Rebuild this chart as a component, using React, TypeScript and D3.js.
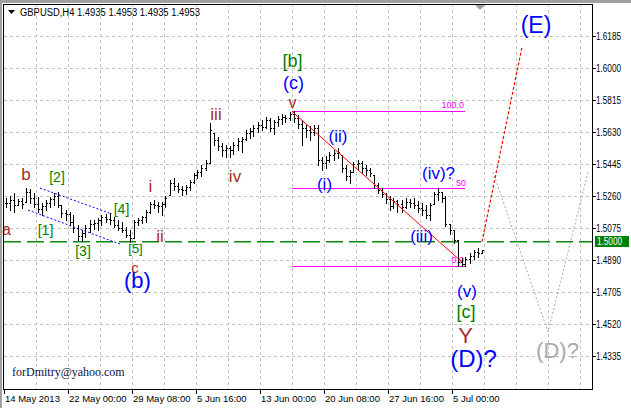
import React from "react";
import * as d3 from "d3";

// ---- price bars (8-hour slots) ----
const highs = [
  1.5253, 1.5264, 1.5282, 1.5247, 1.5253, 1.5311, 1.5305, 1.5282, 1.5259, 1.5224,
  1.5241, 1.5259, 1.5282, 1.5287, 1.5212, 1.5184, 1.5172, 1.5155, 1.5097, 1.5068,
  1.5097, 1.5126, 1.5126, 1.5137, 1.5155, 1.516, 1.5166, 1.5143, 1.5126, 1.5114,
  1.5086, 1.5068, 1.5126, 1.5137, 1.5149, 1.5184, 1.523, 1.5241, 1.523, 1.523,
  1.5264, 1.5357, 1.5368, 1.5339, 1.5322, 1.5328, 1.5357, 1.5397, 1.5414, 1.5443,
  1.5472, 1.5686, 1.5628, 1.5605, 1.557, 1.5559, 1.5553, 1.5576, 1.5599, 1.5605,
  1.5645, 1.5657, 1.5674, 1.5692, 1.5703, 1.572, 1.5715, 1.5703, 1.5726, 1.5738,
  1.5732, 1.5749, 1.5752, 1.5732, 1.5703, 1.5674, 1.5668, 1.5674, 1.5674, 1.549,
  1.5495, 1.5518, 1.553, 1.5541, 1.5501, 1.5443, 1.5414, 1.5461, 1.5472, 1.5466,
  1.5443, 1.5426, 1.5386, 1.5339, 1.5311, 1.5282, 1.5264, 1.5253, 1.5241, 1.5241,
  1.5253, 1.5247, 1.5253, 1.5236, 1.5224, 1.5212, 1.5224, 1.5287, 1.5311, 1.5287,
  1.5264, 1.5103, 1.5068, 1.5011, 1.4907, 1.4913, 1.4936, 1.4953, 1.4965, 1.4953,
];
const lows = [
  1.5201, 1.5184, 1.5172, 1.5212, 1.5195, 1.523, 1.5224, 1.5201, 1.5172, 1.5155,
  1.5184, 1.5201, 1.5212, 1.5201, 1.5143, 1.5126, 1.5097, 1.5057, 1.5011, 1.5005,
  1.5028, 1.5057, 1.5074, 1.5068, 1.5097, 1.5114, 1.5103, 1.5086, 1.5068, 1.5057,
  1.5028, 1.4999, 1.5022, 1.5097, 1.5109, 1.5114, 1.5166, 1.5195, 1.5172, 1.5155,
  1.5201, 1.527, 1.5299, 1.5287, 1.527, 1.5276, 1.5299, 1.5339, 1.5368, 1.538,
  1.5414, 1.5455, 1.5559, 1.553, 1.5495, 1.5489, 1.5489, 1.5507, 1.553, 1.5518,
  1.5588, 1.5599, 1.5611, 1.5634, 1.5645, 1.5657, 1.5639, 1.5622, 1.5668, 1.568,
  1.5692, 1.5703, 1.5692, 1.5657, 1.5559, 1.5605, 1.5588, 1.5616, 1.5443, 1.5414,
  1.5426, 1.5461, 1.5472, 1.5484, 1.5403, 1.5357, 1.5339, 1.5403, 1.5414, 1.5397,
  1.5386, 1.538, 1.5311, 1.5282, 1.5259, 1.5224, 1.5184, 1.5195, 1.5172, 1.5172,
  1.5195, 1.5201, 1.5195, 1.5172, 1.5155, 1.5137, 1.5126, 1.5218, 1.5241, 1.523,
  1.5091, 1.5045, 1.4993, 1.486, 1.4858, 1.486, 1.4878, 1.4901, 1.4913, 1.4935,
];
const closes = [
  1.5224, 1.5241, 1.5212, 1.5236, 1.5218, 1.5287, 1.5253, 1.5218, 1.5189, 1.5207,
  1.5224, 1.5247, 1.5264, 1.5212, 1.5166, 1.5161, 1.5114, 1.508, 1.5034, 1.5051,
  1.508, 1.5103, 1.5109, 1.5126, 1.5143, 1.5132, 1.5126, 1.5097, 1.508, 1.5068,
  1.5039, 1.5022, 1.5114, 1.5126, 1.5143, 1.5172, 1.5218, 1.5212, 1.5207, 1.5218,
  1.5253, 1.5339, 1.5322, 1.5305, 1.5299, 1.5316, 1.5345, 1.5386, 1.5403, 1.5426,
  1.5455, 1.5645, 1.5588, 1.5553, 1.553, 1.5541, 1.553, 1.5559, 1.5582, 1.5593,
  1.5628, 1.5639, 1.5657, 1.5674, 1.5663, 1.5703, 1.5657, 1.5692, 1.5709, 1.572,
  1.5715, 1.5738, 1.5715, 1.568, 1.5657, 1.5645, 1.5634, 1.5657, 1.5472, 1.5455,
  1.5472, 1.5501, 1.5512, 1.5518, 1.5426, 1.538, 1.5403, 1.5449, 1.5455, 1.5426,
  1.5414, 1.5397, 1.5328, 1.5299, 1.5276, 1.5247, 1.5207, 1.5236, 1.5218, 1.5201,
  1.523, 1.5224, 1.5212, 1.5195, 1.5184, 1.5155, 1.5212, 1.5276, 1.5287, 1.5253,
  1.5103, 1.5068, 1.5011, 1.4884, 1.4872, 1.4901, 1.4918, 1.4941, 1.4936, 1.4953,
];

// ---- axes ----
const priceTicks = [1.4335, 1.452, 1.4705, 1.489, 1.5075, 1.526, 1.5445, 1.563, 1.5815, 1.6, 1.6185];
const dateLabels = ["14 May 2013", "22 May 00:00", "29 May 08:00", "5 Jun 16:00", "13 Jun 00:00", "20 Jun 08:00", "27 Jun 16:00", "5 Jul 00:00"];
const dateSlots = [0, 16, 32, 48, 64, 80, 96, 112];
const gridSlots = [8, 16, 24, 32, 40, 48, 56, 64, 72, 80, 88, 96, 104, 112, 120, 128, 136, 144];
const currentLevel = 1.5;
const titleText = "GBPUSD,H4  1.4935 1.4953 1.4935 1.4953";

// ---- analysis objects ----
const fibHigh = 1.5752;
const fibLow = 1.4858;
const fibLevels = [0, 50, 100];
const fibSlots = [72, 115.25];
const trendLine = [[72, 1.5752], [114.5, 1.4883]];
const channelUpper = [[9, 1.531], [27, 1.516]];
const channelLower = [[6, 1.5183], [29, 1.4987]];
const projectionE = [[119.5, 1.5], [129.5, 1.6124]];
const projectionD = [[122.25, 1.5403], [136, 1.4479], [146, 1.5403]];

const BROWN = "#a52a2a";
const GREEN = "#008000";
const BLUE = "#0000ff";
const GRAY = "#aaaaaa";

const waveLabels = [
  { t: "a", s: 0.625, p: 1.5039, c: BROWN, f: 16 },
  { t: "b", s: 5.5, p: 1.5356, c: BROWN, f: 17 },
  { t: "[1]", s: 10.375, p: 1.5039, c: GREEN, f: 14 },
  { t: "[2]", s: 13.25, p: 1.5345, c: GREEN, f: 14 },
  { t: "[3]", s: 19.75, p: 1.4918, c: GREEN, f: 14 },
  { t: "[4]", s: 29.375, p: 1.516, c: GREEN, f: 14 },
  { t: "[5]", s: 32.875, p: 1.4935, c: GREEN, f: 13 },
  { t: "c", s: 32.75, p: 1.4819, c: BROWN, f: 15 },
  { t: "(b)", s: 33.375, p: 1.4733, c: BLUE, f: 22 },
  { t: "i", s: 36.625, p: 1.5287, c: BROWN, f: 17 },
  { t: "ii", s: 39, p: 1.4999, c: BROWN, f: 17 },
  { t: "iii", s: 53, p: 1.5703, c: BROWN, f: 17 },
  { t: "iv", s: 57.75, p: 1.5345, c: BROWN, f: 17 },
  { t: "v", s: 72.125, p: 1.5772, c: BROWN, f: 16 },
  { t: "(c)", s: 72.375, p: 1.5882, c: BLUE, f: 18 },
  { t: "[b]", s: 72.125, p: 1.6009, c: GREEN, f: 18 },
  { t: "(i)", s: 80.125, p: 1.5299, c: BLUE, f: 17 },
  { t: "(ii)", s: 83.5, p: 1.5576, c: BLUE, f: 17 },
  { t: "(iii)", s: 104.375, p: 1.4999, c: BLUE, f: 17 },
  { t: "(iv)?", s: 108.625, p: 1.5362, c: BLUE, f: 17 },
  { t: "(v)", s: 115.75, p: 1.4681, c: BLUE, f: 17 },
  { t: "[c]", s: 115.5, p: 1.456, c: GREEN, f: 18 },
  { t: "Y", s: 115.375, p: 1.4418, c: BROWN, f: 22 },
  { t: "(D)?", s: 117.375, p: 1.4274, c: BLUE, f: 24 },
  { t: "(E)", s: 133, p: 1.6205, c: BLUE, f: 23 },
  { t: "(D)?", s: 138.375, p: 1.4329, c: GRAY, f: 22 },
];

const W = 631;
const H = 408;
const L = 4, T = 4, R = 592, B = 389;
const SANS = "'Liberation Sans', Arial, sans-serif";

export default function App() {
  const x = d3.scaleLinear().domain([0, 147]).range([L, R]);
  const y = d3.scaleLinear().domain([1.41498, 1.63726]).range([B, T]);
  const py = (p: number) => Math.floor(y(p)) + 0.5;
  const px = (s: number) => Math.floor(x(s)) + 0.5;
  const line = d3.line<number[]>().x((d) => x(d[0])).y((d) => y(d[1]));

  const barPath = highs
    .map((h, i) => {
      const l = lows[i];
      const c = closes[i];
      const o = Math.min(h, Math.max(l, i > 0 ? closes[i - 1] : c));
      const cx = Math.floor(x(i + 0.5));
      const yh = Math.round(y(h));
      const yl = Math.round(y(l));
      const yo = Math.round(y(o)) + 0.5;
      const yc = Math.round(y(c)) + 0.5;
      return `M${cx + 0.5},${yh}V${yl + 1}M${cx - 1},${yo}H${cx}M${cx + 1},${yc}H${cx + 2}`;
    })
    .join("");

  const fibRange = fibHigh - fibLow;
  const yCur = y(currentLevel);

  return (
    <svg
      width={W}
      height={H}
      style={{ position: "absolute", left: 0, top: 0, background: "#fff" }}
      fontFamily={SANS}
    >
      <rect x={0} y={0} width={W} height={H} fill="#ffffff" />
      <rect x={0} y={0} width={W} height={3} fill="#a0a0a0" />
      <rect x={0} y={0} width={2} height={H} fill="#a0a0a0" />

      {/* grid */}
      <g stroke="#c0c0c0" strokeDasharray="3,3" shapeRendering="crispEdges">
        {priceTicks.map((p) => (
          <line key={"h" + p} x1={L} x2={R} y1={py(p)} y2={py(p)} />
        ))}
        {gridSlots.map((s) => (
          <line key={"v" + s} x1={px(s)} x2={px(s)} y1={T} y2={B} />
        ))}
      </g>

      {/* fibonacci levels */}
      {fibLevels.map((lv) => {
        const p = fibLow + (fibRange * lv) / 100;
        return (
          <g key={"f" + lv}>
            <line x1={x(fibSlots[0])} x2={x(fibSlots[1])} y1={py(p)} y2={py(p)} stroke="#ff00ff" shapeRendering="crispEdges" />
            <text x={x(fibSlots[1]) - (lv === 50 ? -1 : 1)} y={py(p) - (lv === 50 ? 3 : 4)} fontSize={9} fill="#ff00ff" textAnchor="end">
              {lv === 50 ? "50" : lv.toFixed(1)}
            </text>
          </g>
        );
      })}

      {/* current level line */}
      <line x1={L} x2={R} y1={yCur} y2={yCur} stroke="#0a8a0a" strokeWidth={1.6} strokeDasharray="17,6" />

      {/* channel */}
      <path d={line(channelUpper) || ""} stroke={BLUE} strokeDasharray="2,2" fill="none" />
      <path d={line(channelLower) || ""} stroke={BLUE} strokeDasharray="2,2" fill="none" />

      {/* bars */}
      <path d={barPath} stroke="#000" strokeWidth={1} fill="none" shapeRendering="crispEdges" />

      {/* trend line */}
      <path d={line(trendLine) || ""} stroke="#ff0000" fill="none" strokeWidth={1} />

      {/* projections */}
      <path d={line(projectionD) || ""} stroke="#a8a8a8" strokeDasharray="2,2" fill="none" />
      <path d={line(projectionE) || ""} stroke="#ff0000" strokeDasharray="3,2" fill="none" strokeWidth={1.2} />

      {/* wave labels */}
      {waveLabels.map((d, i) => (
        <text key={"w" + i} x={x(d.s)} y={y(d.p)} fontSize={d.f} fill={d.c} textAnchor="middle">
          {d.t}
        </text>
      ))}

      {/* frame */}
      <rect x={3.5} y={4.5} width={R - 3.5} height={B - 4.5} fill="none" stroke="#000" shapeRendering="crispEdges" />

      {/* shift marker */}
      <path d={`M${x(119) - 5},5H${x(119) + 5}L${x(119)},10Z`} fill="#a0a0a0" />

      {/* title */}
      <path d="M8,10H15L11.5,14Z" fill="#000" />
      <text x={20} y={15.5} fontSize={10} fill="#000" textLength={180} lengthAdjust="spacingAndGlyphs">
        {titleText}
      </text>

      {/* watermark */}
      <text x={12} y={376} fontSize={12} fontFamily="'Liberation Serif', 'Times New Roman', serif" fill="#101040">
        forDmitry@yahoo.com
      </text>

      {/* right axis */}
      <g>
        {priceTicks.map((p) => (
          <g key={"yt" + p}>
            <line x1={R} x2={R + 4} y1={py(p)} y2={py(p)} stroke="#000" shapeRendering="crispEdges" />
            <text x={596} y={py(p) + 3.5} fontSize={10} fill="#000" textLength={25} lengthAdjust="spacingAndGlyphs">
              {p.toFixed(4)}
            </text>
          </g>
        ))}
        <rect x={595} y={Math.floor(yCur) - 5} width={34} height={11} fill={GREEN} />
        <text x={597} y={Math.floor(yCur) + 3.5} fontSize={10} fill="#fff" textLength={25} lengthAdjust="spacingAndGlyphs">
          {currentLevel.toFixed(4)}
        </text>
      </g>

      {/* bottom axis */}
      <g>
        {dateSlots.map((s, i) => (
          <g key={"xt" + s}>
            <line x1={px(s)} x2={px(s)} y1={B} y2={B + 5} stroke="#000" shapeRendering="crispEdges" />
            <text x={x(s) + 1} y={401.5} fontSize={9.5} fill="#000">
              {dateLabels[i]}
            </text>
          </g>
        ))}
      </g>
    </svg>
  );
}
